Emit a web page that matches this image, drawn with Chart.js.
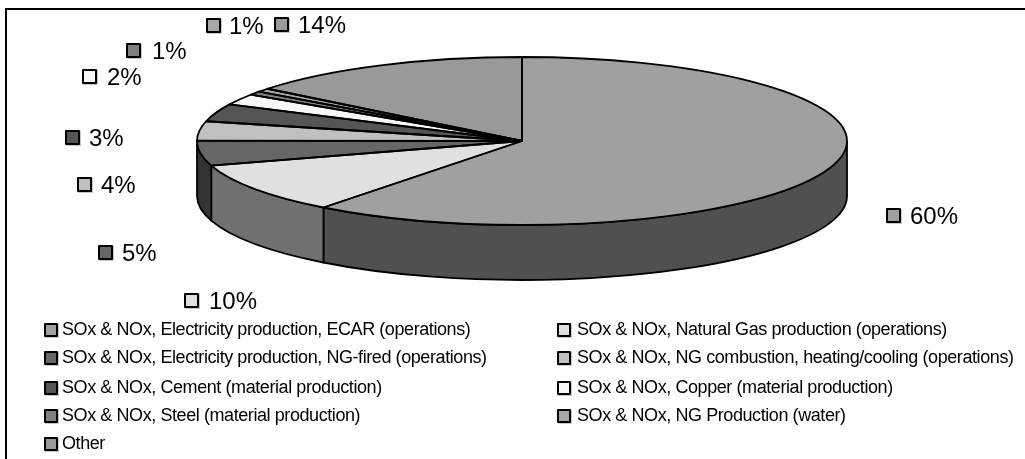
<!DOCTYPE html>
<html>
<head>
<meta charset="utf-8">
<script src="https://cdn.jsdelivr.net/npm/chart.js@4"></script>
<style>
  html, body { margin: 0; padding: 0; background: #fff; }
  #wrap { width: 1025px; height: 459px; position: relative; overflow: hidden; }
  canvas { display: block; }
</style>
</head>
<body>
<div id="wrap"><canvas id="myChart" width="1025" height="459"></canvas></div>
<script>
const categories = [
  "SOx & NOx, Electricity production, ECAR (operations)",
  "SOx & NOx, Natural Gas production (operations)",
  "SOx & NOx, Electricity production, NG-fired (operations)",
  "SOx & NOx, NG combustion, heating/cooling (operations)",
  "SOx & NOx, Cement (material production)",
  "SOx & NOx, Copper (material production)",
  "SOx & NOx, Steel (material production)",
  "SOx & NOx, NG Production (water)",
  "Other",
];
const shares = [60.4, 9.8, 4.8, 3.7, 3.4, 2.1, 0.7, 0.7, 14.3];
const percentLabels = ["60%", "10%", "5%", "4%", "3%", "2%", "1%", "1%", "14%"];
const sliceColors = ["#a0a0a0", "#e0e0e0", "#666666", "#c0c0c0", "#555555", "#f8f8f8", "#808080", "#a6a6a6", "#999999"];

// where the percent labels sit, [swatch left, swatch top, text left]
const labelBoxes = [
  [887, 209, 910], [185, 294, 209], [99, 246, 122], [78, 178, 101], [66, 131, 89],
  [83, 70, 107], [127, 44, 152], [207, 19, 229], [275, 18, 298],
];
// legend reads across: left column, right column
const legendSwatchX = [45, 558];
const legendTextX = [62, 577];
const legendRows = [330, 358, 388, 416, 444];

const pieX = 522, pieY = 141, pieRx = 325, pieRy = 84, pieDepth = 55;
const squash = pieRy / pieRx;

function halfColor(hex) {
  const n = parseInt(hex.slice(1), 16);
  const c = (n >> 16 & 255) >> 1;
  return "rgb(" + c + "," + c + "," + c + ")";
}

function swatch(ctx, x, y, size, color) {
  ctx.fillStyle = "#c8c8c8";
  ctx.fillRect(x, y, size + 2, size + 2);
  ctx.fillStyle = color;
  ctx.strokeStyle = "#000";
  ctx.lineWidth = 2;
  ctx.fillRect(x, y, size, size);
  ctx.strokeRect(x, y, size, size);
}

const pie3d = {
  id: "pie3d",
  beforeDraw(chart) {
    // chart frame, cut off by the picture on the right and at the bottom
    const ctx = chart.ctx;
    ctx.save();
    ctx.strokeStyle = "#000";
    ctx.lineWidth = 2;
    ctx.strokeRect(6, 9, 1040, 470);
    ctx.restore();
  },
  // side wall of the front half, then flatten the library's arcs into an ellipse
  beforeDatasetsDraw(chart) {
    const ctx = chart.ctx;
    const arcs = chart.getDatasetMeta(0).data;
    ctx.save();
    ctx.strokeStyle = "#000";
    ctx.lineWidth = 1.8;
    arcs.forEach((arc, i) => {
      const a0 = Math.max(arc.startAngle, 0);
      const a1 = Math.min(arc.endAngle, Math.PI);
      if (a1 <= a0) return;
      ctx.beginPath();
      ctx.ellipse(pieX, pieY, pieRx, pieRy, 0, a0, a1);
      ctx.ellipse(pieX, pieY + pieDepth, pieRx, pieRy, 0, a1, a0, true);
      ctx.closePath();
      ctx.fillStyle = halfColor(sliceColors[i]);
      ctx.fill();
      ctx.stroke();
    });
    ctx.restore();
    const arc = arcs[0];
    ctx.save();
    ctx.translate(pieX, pieY);
    ctx.scale(1, squash);
    ctx.translate(-arc.x, -arc.y);
  },
  afterDatasetsDraw(chart) {
    const ctx = chart.ctx;
    ctx.restore();
    const arcs = chart.getDatasetMeta(0).data;
    ctx.save();
    ctx.strokeStyle = "#000";
    ctx.lineWidth = 1.8;
    ctx.lineJoin = "round";
    arcs.forEach((arc) => {
      ctx.beginPath();
      ctx.moveTo(pieX, pieY);
      ctx.ellipse(pieX, pieY, pieRx, pieRy, 0, arc.startAngle, arc.endAngle);
      ctx.closePath();
      ctx.stroke();
    });
    // percent labels
    ctx.textBaseline = "middle";
    ctx.textAlign = "left";
    percentLabels.forEach((text, i) => {
      const box = labelBoxes[i];
      swatch(ctx, box[0], box[1], 13, sliceColors[i]);
      ctx.fillStyle = "#000";
      ctx.font = "24px 'Liberation Sans', Arial, sans-serif";
      ctx.fillText(text, box[2], box[1] + 8);
    });
    // legend, the tight spacing stands in for the original's hinted Arial
    ctx.letterSpacing = "-0.42px";
    categories.forEach((text, i) => {
      const col = i % 2;
      const y = legendRows[Math.floor(i / 2)];
      swatch(ctx, legendSwatchX[col], y - 6, 12, sliceColors[i]);
      ctx.fillStyle = "#000";
      ctx.font = "18px 'Liberation Sans', Arial, sans-serif";
      ctx.fillText(text, legendTextX[col], y);
    });
    ctx.restore();
  },
};

const data = {
  labels: categories,
  datasets: [
    {
      data: shares,
      backgroundColor: sliceColors,
      borderWidth: 0,
      radius: pieRx,
    },
  ],
};

const config = {
  type: "pie",
  data: data,
  plugins: [pie3d],
  options: {
    responsive: false,
    animation: false,
    plugins: {
      legend: { display: false },
      tooltip: { enabled: false },
    },
  },
};

var myChart = new Chart(document.getElementById("myChart"), config);
</script>
</body>
</html>
